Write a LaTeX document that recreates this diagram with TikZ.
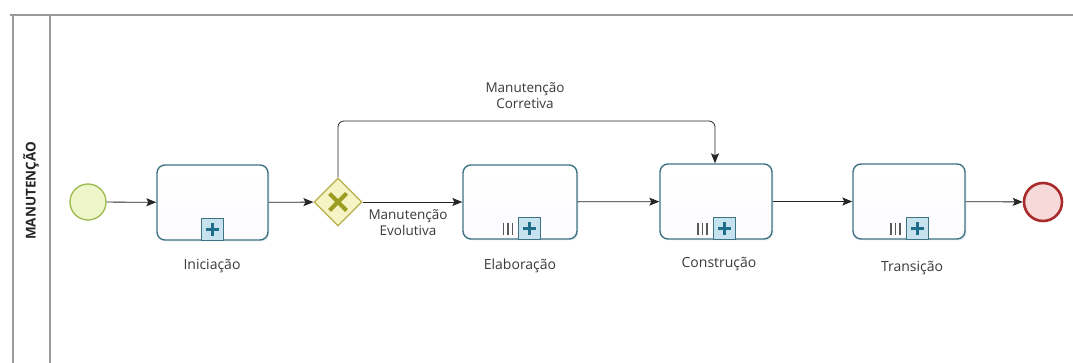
\documentclass[tikz,border=0pt]{standalone}
\usepackage{fontspec}
\setmainfont{Open Sans}
\usetikzlibrary{shapes.geometric,arrows.meta,shadows,calc}
\definecolor{taskborder}{HTML}{3F7383}
\definecolor{taskfill}{HTML}{EEF3FA}
\definecolor{pboxfill}{HTML}{C6E2EE}
\definecolor{plusc}{HTML}{1E6E8A}
\definecolor{gwfill}{HTML}{F6F4C4}
\definecolor{gwborder}{HTML}{B7B04A}
\definecolor{gwx}{HTML}{9C9B22}
\definecolor{startfill}{HTML}{EEF6CA}
\definecolor{startborder}{HTML}{9DB94E}
\definecolor{endfill}{HTML}{F8D9D9}
\definecolor{endborder}{HTML}{A82A2A}
\definecolor{poolline}{HTML}{9A9A9A}
\definecolor{txt}{HTML}{3A3A3A}
\tikzset{
  task/.style={draw=taskborder, line width=1.4pt, rounded corners=8pt,
    top color=white, bottom color=taskfill!90!blue!8, minimum width=111pt, minimum height=75pt,
    inner sep=0pt, drop shadow={opacity=0.18, shadow xshift=1.5pt, shadow yshift=-1.5pt, fill=taskborder!60}},
  tasklabel/.style={font=\fontsize{14}{16}\selectfont, text=txt, inner sep=0pt},
  flowlabel/.style={font=\fontsize{13.5}{16}\selectfont, text=txt, align=center, inner sep=0pt},
  flow/.style={draw=black!85, line width=0.8pt, -{Stealth[length=10pt,width=8pt,inset=2pt]}},
  startev/.style={circle, draw=startborder, line width=1.3pt, fill=startfill, minimum size=36pt, inner sep=0pt},
  endev/.style={circle, draw=endborder, line width=2.6pt, fill=endfill, minimum size=38pt, inner sep=0pt},
  gateway/.style={diamond, draw=gwborder, line width=1.3pt, fill=gwfill, minimum width=48pt, minimum height=48pt, inner sep=0pt, aspect=1},
  pool/.style={draw=poolline, line width=1.3pt},
  plusbox/.pic={
    \draw[draw=taskborder, line width=1.1pt, fill=pboxfill] (-11,-11) rectangle (11,11);
    \draw[plusc, line width=2.8pt] (-6.5,0) -- (6.5,0) (0,-6.5) -- (0,6.5);
  },
  multibars/.pic={
    \draw[black!65, line width=1.6pt] (-4.5,-6) -- (-4.5,6) (0,-6) -- (0,6) (4.5,-6) -- (4.5,6);
  }
}
\begin{document}
\begin{tikzpicture}[x=1pt,y=-1pt]
\useasboundingbox (0,0) rectangle (1073,363);
\fill[white] (0,0) rectangle (1073,363);
% pool
\draw[pool] (10,15) -- (1073,15);
\draw[pool] (13,15) -- (13,363);
\draw[pool] (50,15) -- (50,363);
\node[rotate=90, font=\bfseries\fontsize{13.5}{15}\selectfont, text=black!85, inner sep=0pt] (lane) at (31,191) {MANUTENÇÃO};
% nodes
\node[startev] (start) at (88,202) {};
\node[task] (ini) at (212.5,202.5) {};
\node[gateway] (gw) at (338,202) {};
\node[task, minimum width=114pt, minimum height=74pt] (ela) at (520,202) {};
\node[task, minimum width=112pt] (con) at (716,201.5) {};
\node[task, minimum width=112pt] (tra) at (909,201.5) {};
\node[endev] (end) at (1043,202) {};
% gateway X
\draw[gwx, line width=4pt] ($(gw)+(-8.5,-8.5)$) -- ($(gw)+(8.5,8.5)$) ($(gw)+(-8.5,8.5)$) -- ($(gw)+(8.5,-8.5)$);
% markers
\pic at ([yshift=11pt]ini.south) {plusbox};
\pic at ([xshift=9.5pt,yshift=11pt]ela.south) {plusbox};
\pic at ([xshift=-12pt,yshift=11pt]ela.south) {multibars};
\pic at ([xshift=8.5pt,yshift=11pt]con.south) {plusbox};
\pic at ([xshift=-13.5pt,yshift=11pt]con.south) {multibars};
\pic at ([xshift=8.5pt,yshift=11pt]tra.south) {plusbox};
\pic at ([xshift=-13.5pt,yshift=11pt]tra.south) {multibars};
% labels
\node[tasklabel] (lini) at (212,266) {Iniciação};
\node[tasklabel] (lela) at (520,266) {Elaboração};
\node[tasklabel] (lcon) at (719,264) {Construção};
\node[tasklabel] (ltra) at (912,268) {Transição};
% flows
\coordinate (c1) at (gw.north |- 0,121);
\coordinate (c2) at (715,121);
\coordinate (cin) at (715,0 |- con.north);
\draw[flow] (start) -- (ini);
\draw[flow] (ini) -- (gw);
\draw[flow] (gw) -- (ela);
\draw[flow, rounded corners=6pt] (gw.north) -- (c1) -- (c2) -- (cin);
\draw[flow] (ela) -- (con);
\draw[flow] (con) -- (tra);
\draw[flow] (tra) -- (end);
\node[flowlabel] (lcorr) at (525,96) {Manutenção\\Corretiva};
\node[flowlabel] (levo) at (408,223) {Manutenção\\Evolutiva};
\end{tikzpicture}
\end{document}
